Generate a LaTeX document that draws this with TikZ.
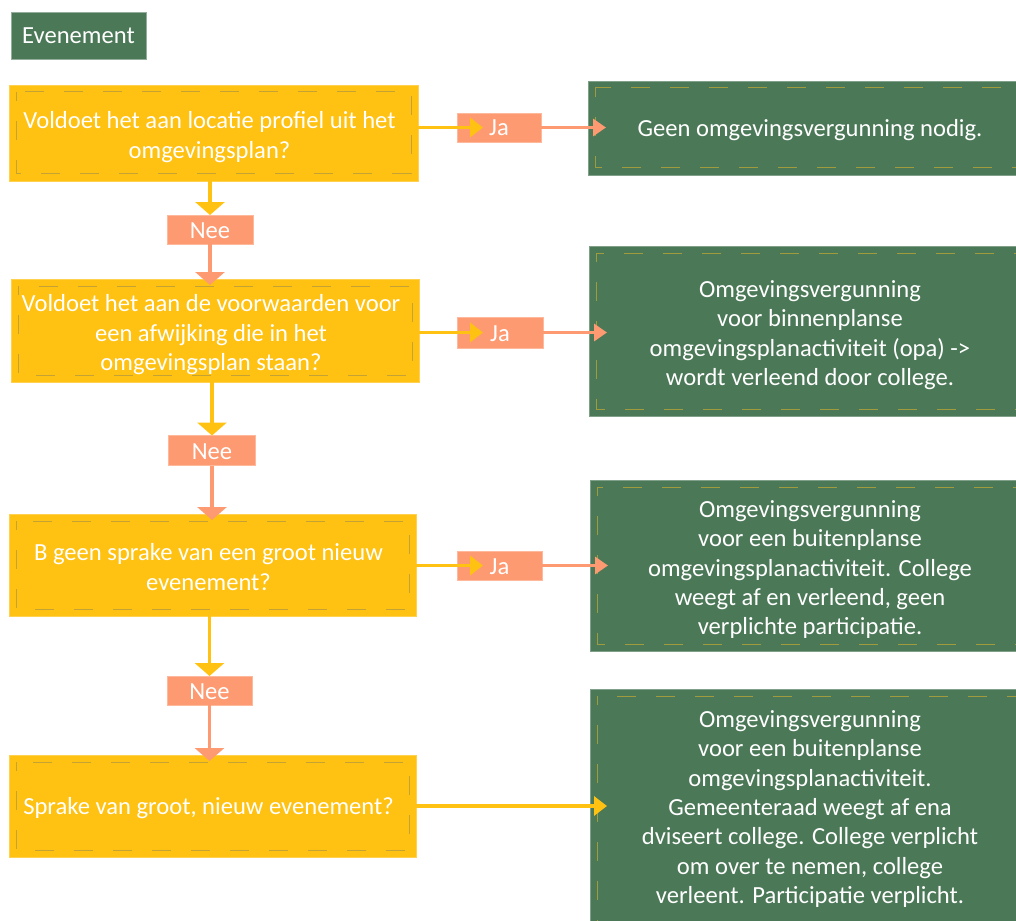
\documentclass[tikz,border=0pt]{standalone}
\usepackage{fontspec}
\setmainfont{Carlito}
\usetikzlibrary{arrows.meta}
\definecolor{yel}{HTML}{FFC213}
\definecolor{yeldash}{HTML}{C4A234}
\definecolor{grn}{HTML}{4B7857}
\definecolor{grndash}{HTML}{A09C3E}
\definecolor{sal}{HTML}{FD9A72}
\newcommand\diagfont{\fontsize{24.6}{29.3}\selectfont}
\newcommand\topline{\rule{0pt}{27pt}}
\begin{document}
\begin{tikzpicture}[x=1pt,y=-1pt,
  base/.style={text=white,font=\diagfont,align=center,inner sep=0pt,outer sep=0pt,
    execute at begin node={\rule{0pt}{23pt}},
    execute at end node={\rule[-6pt]{0pt}{6pt}}},
  ybox/.style={base,fill=yel,draw=yel!75!white,line width=0.8pt,
    execute at end node={\hspace{8pt}\rule[-6pt]{0pt}{6pt}},
    path picture={\draw[yeldash,line width=1pt,dash pattern=on 19pt off 20pt,dash phase=10pt]
      ([shift={(7pt,-7pt)}]path picture bounding box.north west) rectangle
      ([shift={(-7pt,7pt)}]path picture bounding box.south east);}},
  gbox/.style={base,fill=grn,draw=grn!70!white,line width=0.8pt,
    path picture={\draw[grndash,line width=1pt,dash pattern=on 19pt off 20pt,dash phase=10pt]
      ([shift={(7pt,-7pt)}]path picture bounding box.north west) rectangle
      ([shift={(-7pt,7pt)}]path picture bounding box.south east);}},
  ebox/.style={base,fill=grn,draw=grn!60!white,line width=0.8pt},
  lbox/.style={base,fill=sal,draw=sal!70!white,line width=0.8pt},
  yarr/.style={draw=yel,line width=3.5pt},
  sarr/.style={draw=sal,line width=3.5pt},
  ytipv/.style={-{Triangle[width=29pt,length=13pt]}},
  ytiph/.style={-{Triangle[width=19pt,length=13pt]}},
  stiph/.style={-{Triangle[width=17pt,length=13pt]}},
]
\useasboundingbox (0,0) rectangle (1016,920);
\clip (0,0) rectangle (1016,920);

\node[ebox,minimum width=135pt,minimum height=47pt] (E) at (78.5,35.5) {Evenement};

\node[ybox,minimum width=409pt,minimum height=96pt] (B1) at (213.5,133) {\topline Voldoet het aan locatie profiel uit het\\omgevingsplan?};
\node[ybox,minimum width=408pt,minimum height=103pt] (B2) at (215,330.5) {\topline Voldoet het aan de voorwaarden voor\\een afwijking die in het\\omgevingsplan staan?};
\node[ybox,minimum width=407pt,minimum height=102pt] (B3) at (212.5,565) {\topline B geen sprake van een groot nieuw\\evenement?};
\node[ybox,minimum width=407pt,minimum height=102pt] (B4) at (212.5,806) {Sprake van groot, nieuw evenement?};

\node[gbox,minimum width=444pt,minimum height=94pt] (G1) at (810,128) {Geen omgevingsvergunning nodig.};
\node[gbox,minimum width=442pt,minimum height=170pt] (G2) at (810,331) {\topline Omgevingsvergunning\\voor binnenplanse\\omgevingsplanactiviteit (opa) ->\\wordt verleend door college.};
\node[gbox,minimum width=440pt,minimum height=171pt] (G3) at (810,565.5) {\topline Omgevingsvergunning\\voor een buitenplanse\\omgevingsplanactiviteit. College\\weegt af en verleend, geen\\verplichte participatie.};
\node[gbox,minimum width=440pt,minimum height=246pt] (G4) at (810,812) {\topline Omgevingsvergunning\\voor een buitenplanse\\omgevingsplanactiviteit.\\Gemeenteraad weegt af ena\\dviseert college. College verplicht\\om over te nemen, college\\verleent. Participatie verplicht.\rule[-20pt]{0pt}{20pt}};

\node[lbox,minimum width=86pt,minimum height=29pt] (N1) at (210,229.5) {Nee};
\node[lbox,minimum width=87pt,minimum height=30pt] (N2) at (212,450.5) {Nee};
\node[lbox,minimum width=85pt,minimum height=29pt] (N3) at (209.5,690.5) {Nee};

\node[lbox,minimum width=84pt,minimum height=28pt] (J1) at (499,127.5) {Ja};
\node[lbox,minimum width=86pt,minimum height=31pt] (J2) at (500,332.5) {Ja};
\node[lbox,minimum width=85pt,minimum height=29pt] (J3) at (499.5,565.5) {Ja};

% vertical flow
\draw[yarr,ytipv] (N1.north |- B1.south) -- (N1.north);
\draw[sarr,ytipv,shorten >=-6pt] (N1.south) -- (N1.south |- B2.north);
\draw[yarr,ytipv] (N2.north |- B2.south) -- (N2.north);
\draw[sarr,ytipv,shorten >=-6pt] (N2.south) -- (N2.south |- B3.north);
\draw[yarr,ytipv] (N3.north |- B3.south) -- (N3.north);
\draw[sarr,ytipv,shorten >=-6pt] (N3.south) -- (N3.south |- B4.north);

% horizontal flow
\draw[yarr,ytiph,shorten >=-26pt] (B1.east |- J1.west) -- (J1.west);
\draw[sarr,stiph,shorten >=-18pt] (J1.east) -- (G1.west |- J1.east);
\draw[yarr,ytiph,shorten >=-26pt] (B2.east |- J2.west) -- (J2.west);
\draw[sarr,stiph,shorten >=-18pt] (J2.east) -- (G2.west |- J2.east);
\draw[yarr,ytiph,shorten >=-26pt] (B3.east |- J3.west) -- (J3.west);
\draw[sarr,stiph,shorten >=-18pt] (J3.east) -- (G3.west |- J3.east);
\draw[yarr,ytiph,shorten >=-17pt] (B4.east) -- (G4.west |- B4.east);
\end{tikzpicture}
\end{document}
